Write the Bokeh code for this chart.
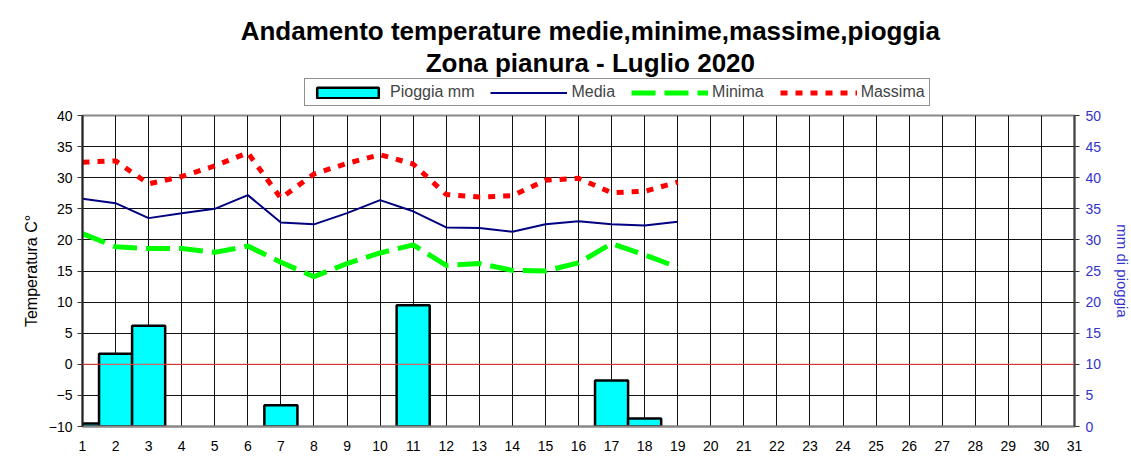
from bokeh.plotting import figure
from bokeh.layouts import column
from bokeh.models import (Range1d, LinearAxis, FixedTicker, Legend, LegendItem,
                          Span, Label, ColumnDataSource)
from bokeh.embed import file_html
from bokeh.resources import INLINE

# ---------------- data ----------------
days = list(range(1, 20))
pioggia = [0.5, 11.7, 16.2, 0, 0, 0, 3.4, 0, 0, 0, 19.5, 0, 0, 0, 0, 0, 7.4, 1.3, 0]
media = [26.6, 25.9, 23.5, 24.3, 25.0, 27.2, 22.8, 22.5, 24.3, 26.4,
         24.6, 22.0, 21.9, 21.3, 22.5, 23.0, 22.5, 22.3, 22.9]
minima = [21.0, 18.9, 18.6, 18.6, 18.0, 19.0, 16.4, 14.1, 16.2, 17.9,
          19.2, 15.9, 16.2, 15.1, 15.0, 16.3, 19.4, 17.6, 15.6]
massima = [32.5, 32.7, 29.0, 30.2, 31.9, 34.0, 26.7, 30.6, 32.3, 33.7,
           32.2, 27.3, 26.9, 27.1, 29.6, 29.9, 27.6, 27.8, 29.3]
x_ticks = list(range(1, 32))
y_ticks = list(range(-10, 41, 5))
rain_ticks = list(range(0, 51, 5))
title1 = "Andamento temperature medie,minime,massime,pioggia"
title2 = "Zona pianura - Luglio 2020"
series_names = ["Pioggia mm", "Media", "Minima", "Massima"]

FONT = "Liberation Sans"
BLUE = "#3333cc"
CYAN = "#00ffff"
NAVY = "#000080"
GREEN = "#00ff00"
RED = "#ff0000"
W = 1124
HEAD_H = 107
FRAME_L, FRAME_W = 82, 992

bd = {"x": [d for d, v in zip(days, pioggia) if v > 0],
      "top": [v for v in pioggia if v > 0]}
src = dict(x=days, media=media, minima=minima, massima=massima)

# ---------------- header (titles + legend) ----------------
# its frame is aligned with the chart frame, so x data units == page pixels
head = figure(width=W, height=HEAD_H, x_range=Range1d(FRAME_L, FRAME_L + FRAME_W),
              y_range=Range1d(0, HEAD_H), output_backend="svg",
              toolbar_location=None, title=None, x_axis_location=None,
              y_axis_location=None, min_border=0, min_border_left=FRAME_L,
              outline_line_color=None,
              background_fill_color="white", border_fill_color="white")
head.xgrid.visible = False
head.ygrid.visible = False
head.extra_x_ranges = {"off": Range1d(25, 60)}
head.extra_y_ranges = {"offy": Range1d(-10, 40)}
for txt, yy in ((title1, HEAD_H - 30), (title2, HEAD_H - 62)):
    head.add_layout(Label(x=595, y=yy, text=txt, text_align="center",
                          text_baseline="middle", text_font=FONT,
                          text_font_size="26px", text_font_style="bold",
                          text_color="black"))

# legend swatch renderers (hidden; only their legend glyphs are shown)
h_bar = head.vbar(x="x", top="top", bottom=0, width=1, source=ColumnDataSource(bd),
                  x_range_name="off", y_range_name="offy", fill_color=CYAN,
                  line_color="black", line_width=2.5)
hsrc = ColumnDataSource(src)
h_med = head.line("x", "media", source=hsrc, x_range_name="off",
                  y_range_name="offy", line_color=NAVY, line_width=2)
h_min = head.line("x", "minima", source=hsrc, x_range_name="off",
                  y_range_name="offy", line_color=GREEN, line_width=5,
                  line_dash="24 9")
h_max = head.line("x", "massima", source=hsrc, x_range_name="off",
                  y_range_name="offy", line_color=RED, line_width=5,
                  line_dash="7 8")
for r in (h_bar, h_med, h_min, h_max):
    r.visible = False

legend = Legend(items=[LegendItem(label=n, renderers=[r]) for n, r in
                       zip(series_names, [h_bar, h_med, h_min, h_max])],
                orientation="horizontal", location=(304 - FRAME_L, 1),
                glyph_width=77, glyph_height=13, label_standoff=4, spacing=16,
                padding=4, margin=0, border_line_color="#222222",
                border_line_width=1, background_fill_color="white",
                background_fill_alpha=1, label_text_font=FONT,
                label_text_font_size="16px", label_height=14)
head.add_layout(legend, "center")

# ---------------- main chart ----------------
p = figure(frame_width=FRAME_W, frame_height=311,
           x_range=Range1d(1, 31), y_range=Range1d(-10, 40),
           output_backend="svg", toolbar_location=None, title=None,
           min_border_left=FRAME_L, min_border_right=0, min_border_top=8,
           min_border_bottom=0, background_fill_color="white",
           border_fill_color="white")
p.extra_y_ranges = {"rain": Range1d(0, 50)}

p.xgrid.ticker = FixedTicker(ticks=x_ticks)
p.ygrid.ticker = FixedTicker(ticks=y_ticks)
for g in (p.xgrid, p.ygrid):
    g.grid_line_color = "#111111"
    g.grid_line_width = 1

p.outline_line_color = "#888888"
p.outline_line_width = 2

xa = p.xaxis[0]
xa.ticker = FixedTicker(ticks=x_ticks)
xa.major_tick_out = 0
xa.major_tick_in = 0
xa.minor_tick_out = 0
xa.minor_tick_in = 0
xa.axis_line_color = "#888888"
xa.axis_line_width = 2
xa.major_label_standoff = 14
xa.major_label_text_font = FONT
xa.major_label_text_font_size = "14px"
xa.major_label_text_color = "black"

ya = p.yaxis[0]
ya.ticker = FixedTicker(ticks=y_ticks)
ya.axis_label = "Temperatura C°"
ya.axis_label_text_font = FONT
ya.axis_label_text_font_style = "normal"
ya.axis_label_text_font_size = "16px"
ya.axis_label_text_color = "black"
ya.axis_label_standoff = 6
ya.major_label_text_font = FONT
ya.major_label_text_font_size = "14px"
ya.major_label_text_color = "black"
ya.major_label_standoff = 5
ya.major_tick_out = 5
ya.major_tick_in = 0
ya.minor_tick_out = 0
ya.minor_tick_in = 0
ya.axis_line_color = "#222222"
ya.axis_line_width = 2
ya.major_tick_line_color = "#333333"

ra = LinearAxis(y_range_name="rain", ticker=FixedTicker(ticks=rain_ticks),
                axis_label="mm di pioggia")
ra.axis_label_text_font = FONT
ra.axis_label_text_font_style = "normal"
ra.axis_label_text_font_size = "15px"
ra.axis_label_text_color = BLUE
ra.axis_label_standoff = 10
ra.major_label_text_font = FONT
ra.major_label_text_font_size = "14px"
ra.major_label_text_color = BLUE
ra.major_label_standoff = 6
ra.major_tick_out = 5
ra.major_tick_in = 0
ra.minor_tick_out = 0
ra.minor_tick_in = 0
ra.axis_line_color = "#444444"
ra.axis_line_width = 2
ra.major_tick_line_color = "#333333"
p.add_layout(ra, "right")

p.vbar(x="x", top="top", bottom=0, width=1.0, source=ColumnDataSource(bd),
       y_range_name="rain", fill_color=CYAN, line_color="black", line_width=2.5)

p.add_layout(Span(location=0, dimension="width", line_color="#ff4040",
                  line_width=1, level="overlay"))

msrc = ColumnDataSource(src)
p.line("x", "media", source=msrc, line_color=NAVY, line_width=2)
p.line("x", "minima", source=msrc, line_color=GREEN, line_width=5, line_dash="24 9")
p.line("x", "massima", source=msrc, line_color=RED, line_width=5, line_dash="7 8")

layout = column(head, p, spacing=0)
open("out.html", "w").write(file_html(layout, INLINE))
